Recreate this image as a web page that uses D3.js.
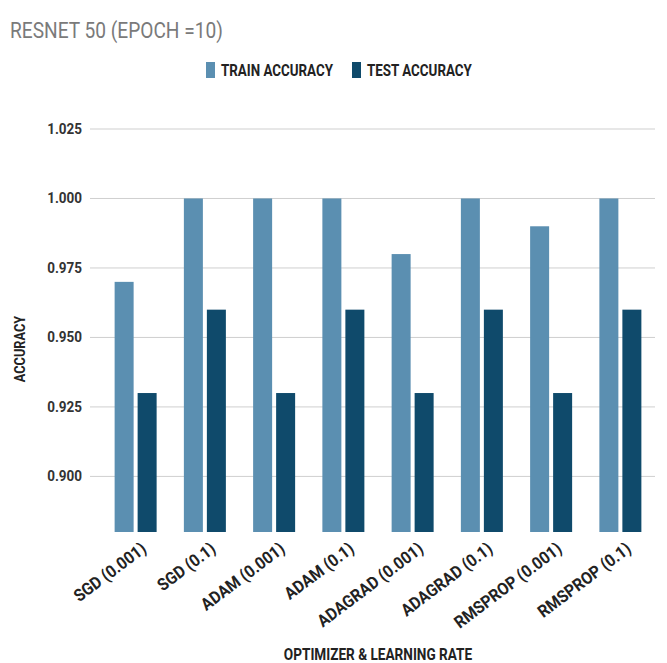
<!DOCTYPE html>
<html>
<head>
<meta charset="utf-8">
<script src="https://cdn.jsdelivr.net/npm/d3@7"></script>
<style>
  body { margin: 0; background: #fff; }
  text { font-family: Roboto, "Liberation Sans", sans-serif; }
</style>
</head>
<body>
<div id="chart"></div>
<script>
var categories = ["SGD (0.001)", "SGD (0.1)", "ADAM (0.001)", "ADAM (0.1)",
    "ADAGRAD (0.001)", "ADAGRAD (0.1)", "RMSPROP (0.001)", "RMSPROP (0.1)"];
var trainAcc = [0.97, 1.0, 1.0, 1.0, 0.98, 1.0, 0.99, 1.0];
var testAcc = [0.93, 0.96, 0.93, 0.96, 0.93, 0.96, 0.93, 0.96];
var yTicks = [0.900, 0.925, 0.950, 0.975, 1.000, 1.025];
var seriesNames = ["TRAIN ACCURACY", "TEST ACCURACY"];
var colors = ["#5b8fb1", "#0f4a6b"];

var width = 667, height = 663;

var svg = d3.select("#chart").append("svg")
    .attr("width", width)
    .attr("height", height);

var X = d3.scaleBand()
    .domain(categories)
    .range([101, 655]);

var Y = d3.scaleLinear()
    .domain([0.88, 1.025])
    .range([532, 129]);

// title
svg.append("text")
    .attr("transform", "translate(10,38) scale(0.87,1)")
    .attr("fill", "#7a7a7a")
    .attr("font-size", 22)
    .text("RESNET 50 (EPOCH =10)");

// legend
var legendX = [206, 352];
seriesNames.forEach(function(name, i) {
    svg.append("rect")
        .attr("x", legendX[i])
        .attr("y", 62)
        .attr("width", 9)
        .attr("height", 16)
        .attr("fill", colors[i]);
    svg.append("text")
        .attr("transform", "translate(" + (legendX[i] + 15) + ",76) scale(0.81,1)")
        .attr("font-size", 16.5)
        .attr("font-weight", "bold")
        .attr("fill", "#222")
        .text(name);
});

// gridlines + y labels
svg.selectAll(".grid")
    .data(yTicks)
    .enter().append("line")
    .attr("x1", 90)
    .attr("x2", 655)
    .attr("y1", function(d) { return Y(d); })
    .attr("y2", function(d) { return Y(d); })
    .attr("stroke", "#cfcfcf")
    .attr("stroke-width", 1);

svg.selectAll(".ylab")
    .data(yTicks)
    .enter().append("text")
    .attr("transform", function(d) { return "translate(82," + (Y(d) + 5) + ") scale(0.9,1)"; })
    .attr("text-anchor", "end")
    .attr("font-size", 15)
    .attr("font-weight", "bold")
    .attr("fill", "#333")
    .text(function(d) { return d3.format(".3f")(d); });

// bars
var barW = 19, gap = 4;
var groups = svg.selectAll(".grp")
    .data(categories)
    .enter().append("g")
    .attr("transform", function(d) {
        return "translate(" + (X(d) + X.bandwidth() / 2) + ",0)";
    });

groups.append("rect")
    .attr("x", -barW - gap / 2)
    .attr("width", barW)
    .attr("y", function(d, i) { return Y(trainAcc[i]); })
    .attr("height", function(d, i) { return Y.range()[0] - Y(trainAcc[i]); })
    .attr("fill", colors[0]);

groups.append("rect")
    .attr("x", gap / 2)
    .attr("width", barW)
    .attr("y", function(d, i) { return Y(testAcc[i]); })
    .attr("height", function(d, i) { return Y.range()[0] - Y(testAcc[i]); })
    .attr("fill", colors[1]);

// x labels
groups.append("text")
    .attr("transform", "translate(12,551) rotate(-37) scale(0.92,1)")
    .attr("text-anchor", "end")
    .attr("font-size", 17)
    .attr("font-weight", "bold")
    .attr("fill", "#222")
    .text(function(d) { return d; });

// axis titles
svg.append("text")
    .attr("transform", "translate(378,660) scale(0.8,1)")
    .attr("text-anchor", "middle")
    .attr("font-size", 17)
    .attr("font-weight", "bold")
    .attr("fill", "#222")
    .text("OPTIMIZER & LEARNING RATE");

svg.append("text")
    .attr("transform", "translate(25,349) rotate(-90) scale(0.85,1)")
    .attr("text-anchor", "middle")
    .attr("font-size", 15)
    .attr("font-weight", "bold")
    .attr("fill", "#222")
    .text("ACCURACY");
</script>
</body>
</html>
